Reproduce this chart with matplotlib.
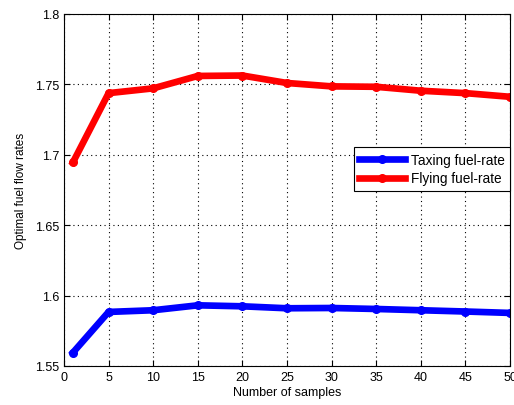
import matplotlib
matplotlib.use("Agg")
import matplotlib.pyplot as plt
import numpy as np

plt.rcParams['font.family'] = ['Liberation Sans', 'DejaVu Sans']

samples = [1, 5, 10, 15, 20, 25, 30, 35, 40, 45, 50]
taxing = [1.5595, 1.5884, 1.5896, 1.5931, 1.5924, 1.5910, 1.5912, 1.5905, 1.5896, 1.5887, 1.5877]
flying = [1.6946, 1.7438, 1.7472, 1.7560, 1.7563, 1.7510, 1.7486, 1.7483, 1.7455, 1.7438, 1.7412]
xticks = [0, 5, 10, 15, 20, 25, 30, 35, 40, 45, 50]
yticks = [1.55, 1.6, 1.65, 1.7, 1.75, 1.8]

fig = plt.figure(figsize=(5.14, 4.06), dpi=100)
ax = fig.add_axes([64/514, 1 - 367/406, (510-64)/514, (367-15)/406])

ax.plot(samples, taxing, color='#0000ff', lw=4.8, marker='o', ms=5.5, label='Taxing fuel-rate')
ax.plot(samples, flying, color='#ff0000', lw=4.8, marker='o', ms=5.5, label='Flying fuel-rate')

ax.set_xlim(0, 50)
ax.set_ylim(1.55, 1.8)
ax.set_xticks(xticks)
ax.set_yticks(yticks)
ax.set_yticklabels(['1.55', '1.6', '1.65', '1.7', '1.75', '1.8'])
ax.tick_params(direction='in', top=True, right=True, labelsize=9, length=4)
ax.grid(True, color='black', linestyle=(0, (1, 3)), linewidth=0.8)
ax.set_xlabel('Number of samples', fontsize=9, labelpad=2)
ax.set_ylabel('Optimal fuel flow rates', fontsize=8.5, labelpad=6)

leg = ax.legend(loc='upper right', bbox_to_anchor=(1.0, 0.622), fontsize=9.8,
                fancybox=False, framealpha=1, edgecolor='black', borderaxespad=0,
                handlelength=3.4, handletextpad=0.4, borderpad=0.4, labelspacing=0.35)
leg.get_frame().set_linewidth(0.8)

fig.savefig('out.png', dpi=100)
